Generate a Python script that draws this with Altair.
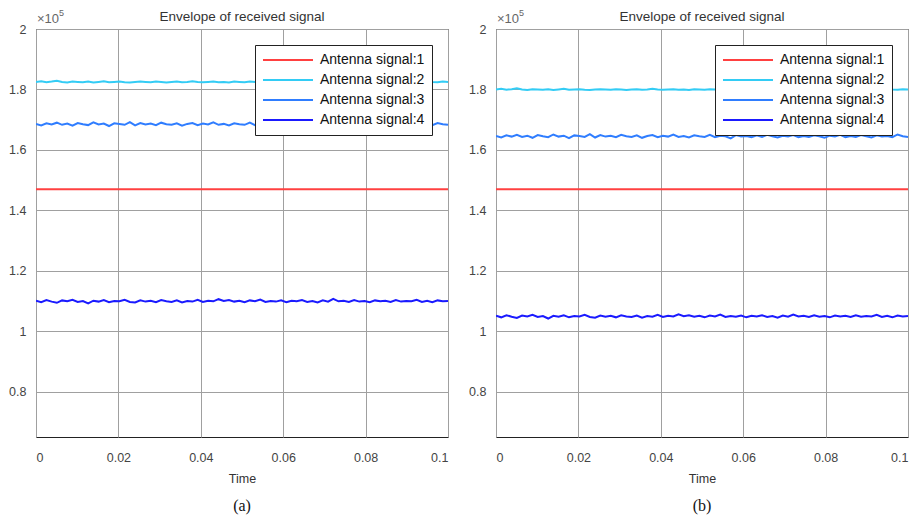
import altair as alt
import numpy as np
import pandas as pd

series_names = ["Antenna signal:1", "Antenna signal:2", "Antenna signal:3", "Antenna signal:4"]
series_colors = ["#ff4040", "#33ccf5", "#2f7dff", "#1a1aff"]
x_ticks = [0, 0.02, 0.04, 0.06, 0.08, 0.1]
y_ticks = [0.8, 1.0, 1.2, 1.4, 1.6, 1.8, 2.0]
captions = ["(a)", "(b)"]
title_text = "Envelope of received signal"

# values in units of 1e5
s1a = [1.47, 1.47]
s2a = [1.825,1.827,1.824,1.826,1.829,1.825,1.823,1.826,1.825,1.824,1.826,1.823,1.825,1.827,1.824,1.825,1.826,1.824,1.823,1.825,
       1.826,1.825,1.824,1.826,1.825,1.823,1.825,1.826,1.824,1.825,1.827,1.825,1.824,1.825,1.826,1.824,1.825,1.823,1.826,1.825,
       1.824,1.826,1.825,1.827,1.824,1.825,1.826,1.824,1.825,1.823,1.826,1.825,1.824,1.826,1.825,1.824,1.826,1.825,1.823,1.825,
       1.826,1.824,1.825,1.827,1.824,1.826,1.825,1.823,1.825,1.826,1.824,1.825,1.826,1.824,1.825,1.827,1.825,1.824,1.826,1.825]
s3a = [1.686,1.681,1.688,1.684,1.690,1.683,1.687,1.680,1.689,1.685,1.682,1.691,1.684,1.687,1.679,1.688,1.686,1.683,1.692,1.681,
       1.689,1.684,1.687,1.682,1.690,1.685,1.683,1.688,1.680,1.686,1.689,1.682,1.687,1.684,1.691,1.683,1.686,1.681,1.688,1.685,
       1.683,1.690,1.682,1.687,1.685,1.680,1.689,1.684,1.686,1.682,1.688,1.683,1.690,1.685,1.681,1.687,1.684,1.689,1.682,1.686,
       1.683,1.688,1.685,1.680,1.687,1.684,1.690,1.682,1.686,1.683,1.689,1.685,1.681,1.688,1.684,1.686,1.682,1.689,1.685,1.683]
s4a = [1.101,1.096,1.103,1.098,1.094,1.102,1.099,1.104,1.097,1.100,1.092,1.101,1.098,1.103,1.096,1.100,1.099,1.104,1.097,1.095,
       1.102,1.098,1.101,1.096,1.103,1.099,1.097,1.102,1.095,1.100,1.098,1.104,1.097,1.101,1.099,1.106,1.100,1.103,1.098,1.101,
       1.096,1.102,1.099,1.105,1.097,1.100,1.098,1.102,1.096,1.101,1.099,1.103,1.097,1.100,1.095,1.102,1.098,1.107,1.099,1.101,
       1.097,1.103,1.098,1.100,1.096,1.102,1.099,1.101,1.097,1.103,1.098,1.100,1.099,1.104,1.097,1.101,1.096,1.102,1.099,1.100]

s1b = [1.47, 1.47]
s2b = [1.800,1.802,1.799,1.801,1.804,1.800,1.798,1.801,1.800,1.799,1.801,1.798,1.800,1.802,1.799,1.800,1.801,1.799,1.798,1.800,
       1.801,1.800,1.799,1.801,1.800,1.798,1.800,1.801,1.799,1.800,1.802,1.800,1.799,1.800,1.801,1.799,1.800,1.798,1.801,1.800,
       1.799,1.801,1.800,1.802,1.799,1.800,1.801,1.799,1.800,1.798,1.801,1.800,1.799,1.801,1.800,1.799,1.801,1.800,1.798,1.800,
       1.801,1.799,1.800,1.802,1.799,1.801,1.800,1.798,1.800,1.801,1.799,1.800,1.801,1.799,1.800,1.802,1.800,1.799,1.801,1.800]
s3b = [1.646,1.641,1.648,1.644,1.650,1.643,1.647,1.640,1.649,1.645,1.642,1.651,1.644,1.647,1.639,1.648,1.646,1.643,1.652,1.641,
       1.649,1.644,1.647,1.642,1.650,1.645,1.643,1.648,1.640,1.646,1.649,1.642,1.647,1.644,1.651,1.643,1.646,1.641,1.648,1.645,
       1.643,1.650,1.642,1.647,1.645,1.638,1.649,1.644,1.646,1.642,1.648,1.643,1.650,1.645,1.641,1.647,1.644,1.649,1.642,1.646,
       1.643,1.648,1.645,1.640,1.647,1.644,1.650,1.642,1.646,1.643,1.649,1.645,1.641,1.648,1.644,1.646,1.642,1.651,1.645,1.643]
s4b = [1.051,1.046,1.053,1.048,1.044,1.052,1.049,1.054,1.047,1.050,1.042,1.051,1.048,1.053,1.046,1.050,1.049,1.054,1.047,1.045,
       1.052,1.048,1.051,1.046,1.053,1.049,1.047,1.052,1.045,1.050,1.048,1.054,1.047,1.051,1.049,1.056,1.050,1.053,1.048,1.051,
       1.046,1.052,1.049,1.055,1.047,1.050,1.048,1.052,1.046,1.051,1.049,1.053,1.047,1.050,1.045,1.052,1.048,1.055,1.049,1.051,
       1.047,1.053,1.048,1.050,1.046,1.052,1.049,1.051,1.047,1.053,1.048,1.050,1.049,1.054,1.047,1.051,1.046,1.052,1.049,1.050]

W, H = 412, 408
FONT = "Liberation Sans"


def build_df(lists):
    rows = []
    for name, vals in zip(series_names, lists):
        ts = np.linspace(0, 0.1, len(vals))
        for t, v in zip(ts, vals):
            rows.append({"Time": float(t), "value": v, "series": name})
    return pd.DataFrame(rows)


def panel(lists, caption):
    df = build_df(lists)
    lines = alt.Chart(df).mark_line(strokeWidth=2, clip=True).encode(
        x=alt.X("Time:Q", scale=alt.Scale(domain=[0, 0.1], nice=False),
                axis=alt.Axis(values=x_ticks, format="~g", title="Time",
                              labelPadding=14, titlePadding=9)),
        y=alt.Y("value:Q", scale=alt.Scale(domain=[0.65, 2.0], nice=False, zero=False),
                axis=alt.Axis(values=y_ticks, format="~g", title=None)),
        color=alt.Color("series:N",
                        scale=alt.Scale(domain=series_names, range=series_colors),
                        legend=alt.Legend(title=None, orient="none", legendX=219, legendY=16,
                                          symbolType="stroke", symbolSize=2500,
                                          symbolStrokeWidth=2, labelFontSize=14,
                                          labelFont=FONT, labelColor="#111111",
                                          strokeColor="#222222", fillColor="white",
                                          padding=7, rowPadding=4, clipHeight=16,
                                          labelOffset=6, cornerRadius=0)),
        order=alt.Order("Time:Q"),
        detail="series:N",
    )
    one = pd.DataFrame({"k": [0]})
    ttl = alt.Chart(one).mark_text(align="center", baseline="middle", fontSize=13.5,
                                   font=FONT, color="#333333").encode(
        x=alt.value(W / 2), y=alt.value(-12), text=alt.value(title_text))
    exp_base = alt.Chart(one).mark_text(align="left", baseline="alphabetic", fontSize=13,
                                         font=FONT, color="#666666").encode(
        x=alt.value(1), y=alt.value(-6), text=alt.value("×10"))
    exp_sup = alt.Chart(one).mark_text(align="left", baseline="alphabetic", fontSize=9,
                                        font=FONT, color="#666666").encode(
        x=alt.value(23), y=alt.value(-13), text=alt.value("5"))
    cap = alt.Chart(one).mark_text(align="center", baseline="middle", fontSize=16,
                                    font="Liberation Serif", color="#111111").encode(
        x=alt.value(W / 2), y=alt.value(H + 69), text=alt.value(caption))
    return alt.layer(lines, ttl, exp_base, exp_sup, cap).properties(width=W, height=H)


pa = panel([s1a, s2a, s3a, s4a], captions[0])
pb = panel([s1b, s2b, s3b, s4b], captions[1])

chart = alt.hconcat(pa, pb, spacing=19).resolve_scale(color="independent").resolve_legend(
    color="independent"
).properties(padding={"left": 0, "top": 0, "right": 0, "bottom": 0}).configure_view(
    stroke="#222222", strokeWidth=1
).configure_axis(
    grid=True, gridColor="#a0a0a0", gridWidth=1, ticks=False, domain=False,
    labelFont=FONT, labelFontSize=12.5, labelColor="#444444", labelPadding=10,
    titleFont=FONT, titleFontSize=12.5, titleFontWeight="normal", titleColor="#333333",
)

chart.save("out.html", embed_options={"renderer": "svg", "actions": False})
